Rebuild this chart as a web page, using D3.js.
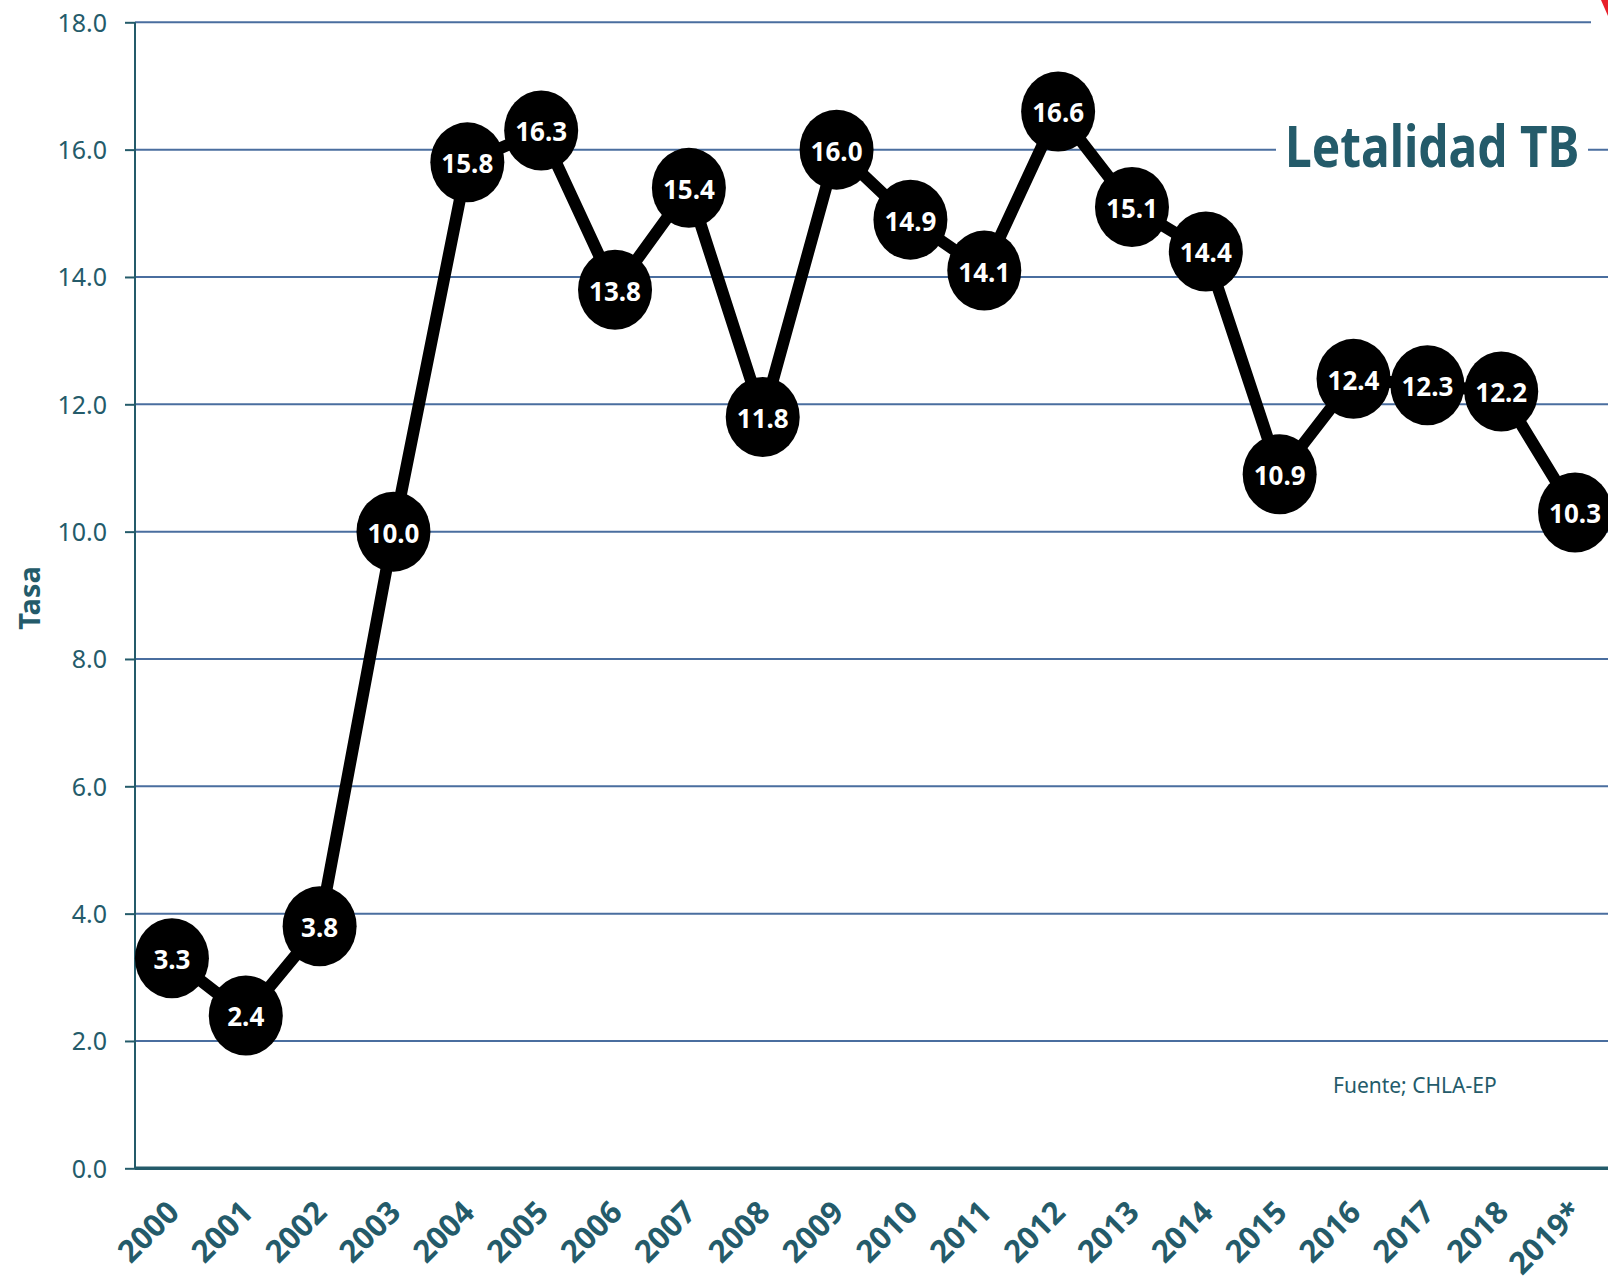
<!DOCTYPE html>
<html>
<head>
<meta charset="utf-8">
<script src="https://cdn.jsdelivr.net/npm/d3@7"></script>
<style>
  body { margin: 0; background: #fff; }
  svg { display: block; font-family: "Noto Sans", sans-serif; }
  .tick-label { fill: #245b6a; font-size: 25px; }
  .year-label { fill: #245b6a; font-size: 31px; font-weight: bold; }
  .point-label { fill: #fff; font-size: 26px; font-weight: bold; }
</style>
</head>
<body>
<div id="chart"></div>
<script>
// data ======================================================
const years = ["2000", "2001", "2002", "2003", "2004", "2005", "2006", "2007", "2008", "2009",
               "2010", "2011", "2012", "2013", "2014", "2015", "2016", "2017", "2018", "2019*"];
const tasa = [3.3, 2.4, 3.8, 10.0, 15.8, 16.3, 13.8, 15.4, 11.8, 16.0,
              14.9, 14.1, 16.6, 15.1, 14.4, 10.9, 12.4, 12.3, 12.2, 10.3];
const yTicks = [0, 2, 4, 6, 8, 10, 12, 14, 16, 18];

const width = 1608, height = 1283;
const plotLeft = 135, plotRight = 1612, plotTop = 22.3, plotBottom = 1168.3;
const teal = "#245b6a", gridColor = "#4a6e9f";

let svg = d3.select("#chart")
  .append("svg")
  .attr("width", width)
  .attr("height", height);

let x = d3.scaleBand()
  .domain(years)
  .range([plotLeft, plotRight])
  .padding(0);

let y = d3.scaleLinear()
  .domain([0, 18])
  .range([plotBottom, plotTop]);

const cx = d => x(d) + x.bandwidth() / 2;

// grid lines =================================================
svg.append("g")
  .selectAll("line")
  .data(yTicks.filter(d => d > 0))
  .enter()
  .append("line")
  .attr("x1", plotLeft)
  .attr("x2", d => d === 18 ? 1591 : width)
  .attr("y1", d => y(d))
  .attr("y2", d => y(d))
  .attr("stroke", gridColor)
  .attr("stroke-width", 2);

// y axis =====================================================
let yAxis = svg.append("g")
  .attr("transform", "translate(" + plotLeft + ",0)")
  .call(d3.axisLeft(y).tickValues(yTicks).tickSize(10).tickPadding(18).tickFormat(d3.format(".1f")));

yAxis.select(".domain").attr("stroke", teal).attr("stroke-width", 2).attr("d", "M0," + plotTop + "V" + plotBottom);
yAxis.selectAll(".tick line").attr("stroke", teal).attr("stroke-width", 2);
yAxis.selectAll(".tick text")
  .attr("class", "tick-label")
  .attr("dy", "0.36em");
yAxis.attr("font-size", null).attr("font-family", null);

// x axis =====================================================
svg.append("line")
  .attr("x1", plotLeft)
  .attr("x2", width)
  .attr("y1", plotBottom)
  .attr("y2", plotBottom)
  .attr("stroke", teal)
  .attr("stroke-width", 3.5);

svg.append("g")
  .selectAll("text")
  .data(years)
  .enter()
  .append("text")
  .attr("class", "year-label")
  .attr("text-anchor", "end")
  .attr("transform", d => "translate(" + (cx(d) + 9) + "," + (plotBottom + 46) + ") rotate(-45)")
  .text(d => d);

// axis title
svg.append("text")
  .attr("transform", "translate(40,598) rotate(-90)")
  .attr("text-anchor", "middle")
  .attr("fill", teal)
  .attr("font-size", "29px")
  .attr("font-weight", "bold")
  .text("Tasa");

// line + markers ==============================================
let line = d3.line()
  .x((d, i) => cx(years[i]))
  .y(d => y(d));

svg.append("path")
  .datum(tasa)
  .attr("d", line)
  .attr("fill", "none")
  .attr("stroke", "#000")
  .attr("stroke-width", 12)
  .attr("stroke-linejoin", "round");

let pt = svg.append("g")
  .selectAll("g")
  .data(tasa)
  .enter()
  .append("g")
  .attr("transform", (d, i) => "translate(" + cx(years[i]) + "," + y(d) + ")");

pt.append("ellipse")
  .attr("rx", 37)
  .attr("ry", 40)
  .attr("fill", "#000");

pt.append("text")
  .attr("class", "point-label")
  .attr("text-anchor", "middle")
  .attr("dy", "0.42em")
  .text(d => d.toFixed(1));

// title =======================================================
svg.append("rect")
  .attr("x", 1276)
  .attr("y", 110)
  .attr("width", 312)
  .attr("height", 70)
  .attr("fill", "#fff");

svg.append("text")
  .attr("transform", "translate(1285,167) scale(0.84,1)")
  .attr("fill", teal)
  .attr("font-size", "57px")
  .attr("font-weight", "bold")
  .text("Letalidad TB");

svg.append("text")
  .attr("x", 1333)
  .attr("y", 1093)
  .attr("fill", teal)
  .attr("font-size", "21px")
  .text("Fuente; CHLA-EP");

// corner of neighbouring graphic
svg.append("path")
  .attr("d", "M1601,0 L1608,0 L1608,16 Z")
  .attr("fill", "#e8202a");
</script>
</body>
</html>
